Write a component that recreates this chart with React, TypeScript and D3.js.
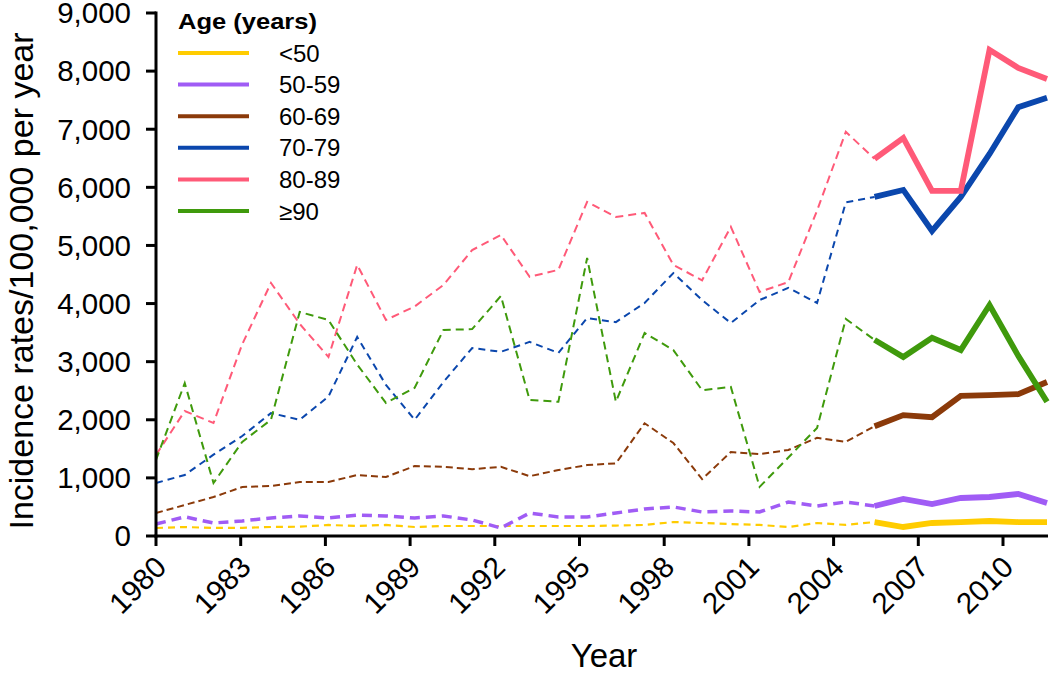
import React from "react";
import * as d3 from "d3";

const years = [1980,1981,1982,1983,1984,1985,1986,1987,1988,1989,1990,1991,1992,1993,1994,1995,1996,1997,1998,1999,2000,2001,2002,2003,2004,2005,2006,2007,2008,2009,2010,2011];
const splitYear = 2005;

const ageLt50 = [138,155,138,140,155,160,190,172,190,155, 172,172,172,172,172,172,180,190,240,224, 206,190,155,224,190,240,155,224,240,258, 240,240];
const age50 = [206,330,224,260,310,345,310,360,345,310, 345,275,138,396,327,327,396,465,500,413, 430,413,585,516,585,516,637,550,654,671, 723,568];
const age60 = [395,534,670,843,860,930,930,1050,1015,1205, 1190,1150,1190,1030,1135,1220,1250,1940,1600,980, 1445,1410,1480,1690,1620,1890,2080,2045,2410,2425, 2440,2650];
const age70 = [912,1050,1400,1720,2115,2000,2400,3425,2600,2000, 2650,3235,3170,3340,3150,3750,3680,4010,4525,4060, 3665,4060,4270,4010,5740,5835,5955,5250,5835,6575, 7380,7540];
const age80 = [1394,2150,1945,3300,4355,3650,3080,4665,3718,3950, 4320,4920,5180,4460,4580,5750,5490,5560,4665,4400, 5320,4200,4370,5600,6955,6490,6850,5940,5940,8365, 8055,7865];
const age90 = [1310,2630,912,1620,2000,3855,3718,2950,2290,2550, 3545,3560,4130,2340,2310,4785,2310,3494,3200,2510, 2565,845,1350,1860,3735,3375,3080,3410,3200,3975, 3100,2310];

const seriesNames = ["<50", "50-59", "60-69", "70-79", "80-89", "\u226590"];
const seriesValues = [ageLt50, age50, age60, age70, age80, age90];
const seriesColors = ["#FFCC00", "#A05CF5", "#8B3A0A", "#0B47AD", "#FF5A78", "#3F9A0C"];
const dashWidths = [2.2, 3.5, 2, 2, 2, 2];
const dashArrays = ["7,5", "10,6", "7,4", "7,5", "8,5", "8,5"];

const yTicks = [0,1000,2000,3000,4000,5000,6000,7000,8000,9000];
const xTicks = [1980,1983,1986,1989,1992,1995,1998,2001,2004,2007,2010];

const FONT = "'Liberation Sans', Arial, Helvetica, sans-serif";

export default function App() {
  const W = 1050, H = 674;
  const y = d3.scaleLinear().domain([0, 9000]).range([536, 13]);
  const xData = d3.scaleLinear().domain([1980, 2011]).range([156, 1047]);
  const xAxis = d3.scaleLinear().domain([1980, 2010]).range([156, 1003]);
  const fmt = d3.format(",");

  const line = d3.line<[number, number]>().x(d => xData(d[0])).y(d => y(d[1]));

  return (
    <svg width={W} height={H} style={{ position: "absolute", left: 0, top: 0, background: "#fff" }} fontFamily={FONT}>
      {seriesValues.map((vals, si) => {
        const pts: [number, number][] = years.map((yr, i) => [yr, vals[i]]);
        const dashed = pts.filter(p => p[0] <= splitYear);
        const solid = pts.filter(p => p[0] >= splitYear);
        return (
          <g key={si}>
            <path d={line(dashed) || ""} fill="none" stroke={seriesColors[si]} strokeWidth={dashWidths[si]} strokeDasharray={dashArrays[si]} />
            <path d={line(solid) || ""} fill="none" stroke={seriesColors[si]} strokeWidth={5.8} strokeLinejoin="miter" />
          </g>
        );
      })}

      <line x1={156} x2={156} y1={y(9000) - 1.5} y2={y(0) + 1.5} stroke="#000" strokeWidth={3} />
      {yTicks.map(t => (
        <g key={t}>
          <line x1={146} x2={156} y1={y(t)} y2={y(t)} stroke="#000" strokeWidth={3} />
          <text x={131} y={y(t)} dy="0.35em" textAnchor="end" fontSize={29.5}>{fmt(t)}</text>
        </g>
      ))}

      <line x1={154.5} x2={1048} y1={536} y2={536} stroke="#000" strokeWidth={3} />
      {xTicks.map(t => (
        <g key={t}>
          <line x1={xAxis(t)} x2={xAxis(t)} y1={536} y2={546} stroke="#000" strokeWidth={3} />
          <text transform={`translate(${xAxis(t) + 12},${569}) rotate(-45)`} textAnchor="end" fontSize={29.5}>{t}</text>
        </g>
      ))}

      <text transform={`translate(33,281) rotate(-90)`} textAnchor="middle" fontSize={34}>Incidence rates/100,000 per year</text>
      <text x={604} y={667} textAnchor="middle" fontSize={33}>Year</text>

      <text x={178} y={29} fontSize={22} fontWeight="bold" textLength={139} lengthAdjust="spacingAndGlyphs">Age (years)</text>
      {seriesNames.map((n, i) => {
        const ly = 53 + i * 31.6;
        return (
          <g key={n}>
            <line x1={178} x2={249} y1={ly} y2={ly} stroke={seriesColors[i]} strokeWidth={4} />
            <text x={279} y={ly} dy="0.36em" fontSize={24}>{n}</text>
          </g>
        );
      })}
    </svg>
  );
}
